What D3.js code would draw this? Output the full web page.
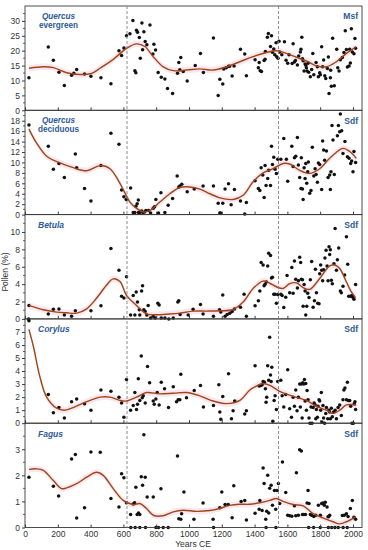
<!DOCTYPE html>
<html><head><meta charset="utf-8">
<script src="https://cdn.jsdelivr.net/npm/d3@7"></script>
<style>body{margin:0;background:#fff}svg{display:block}text{font-family:"Liberation Sans",Arial,sans-serif}</style>
</head><body><svg id="c" width="368" height="550"></svg>
<script>
// ---------------- DATA ----------------
const xTicks = [0,200,400,600,800,1000,1200,1400,1600,1800,2000];
const dashedYears = [622, 1546];
const panelTitles = [["Quercus","evergreen"],["Quercus","deciduous"],["Betula"],["Corylus"],["Fagus"]];
const panelTags = ["Msf","Sdf","Sdf","Sdf","Sdf"];
const yMax = [35, 20, 12, 8, 4];
const yStep = [5, 2, 2, 1, 1];
const yTopTick = [30, 18, 10, 7, 3];
const bandHalf = [1.1, 0.6, 0.38, 0.25, 0.12];

const qeYears = [24,142,173,207,240,284,298,315,363,402,463,524,573,589,603,619,640,658,670,676,680,686,697,703,713,717,725,733,743,762,780,786,796,812,831,853,869,900,930,938,950,944,965,989,1038,1070,1088,1149,1178,1188,1206,1212,1227,1241,1247,1263,1275,1314,1340,1350,1403,1423,1428,1434,1442,1458,1464,1466,1478,1484,1497,1503,1509,1517,1523,1531,1535,1543,1549,1553,1566,1582,1592,1602,1610,1629,1635,1643,1649,1661,1669,1679,1683,1688,1692,1696,1702,1708,1712,1716,1720,1726,1730,1740,1748,1755,1761,1775,1783,1789,1797,1801,1809,1815,1821,1828,1834,1844,1850,1854,1862,1864,1868,1876,1886,1901,1907,1915,1923,1935,1945,1953,1960,1966,1976,1980,1984,1990,1996,2006,2012,2016];
const qeValues = [10.9,21.2,16.8,12.8,8.3,11.8,12.4,13.7,12.2,11.4,10.9,8.9,20.0,18.4,20.9,25.0,25.7,30.1,13.3,12.6,26.9,26.2,24.4,17.5,29.3,20.3,26.4,23.1,22.0,28.6,18.9,22.2,20.2,12.7,11.1,10.5,7.3,5.6,12.4,16.0,17.7,13.6,13.0,9.8,15.0,19.1,12.7,24.3,5.0,10.4,8.8,13.9,14.3,14.8,14.8,11.5,14.9,20.5,18.9,11.6,17.0,14.3,16.0,13.3,13.0,16.7,17.1,19.7,24.5,25.8,21.4,25.0,19.5,20.6,18.6,22.7,18.0,17.5,23.2,19.6,18.6,23.0,16.8,15.8,18.6,15.7,22.3,16.2,16.7,15.2,18.2,19.6,20.5,24.5,17.3,16.6,13.2,15.5,15.1,14.3,13.2,15.8,12.8,11.3,13.7,19.1,11.9,16.0,14.6,11.3,12.6,11.9,21.3,14.6,16.9,11.6,10.7,14.0,17.9,5.6,10.9,13.4,8.1,24.2,8.2,20.5,14.3,13.2,17.0,17.7,19.4,26.7,20.4,14.5,14.9,20.5,15.9,27.4,19.6,19.0,24.1,20.8];
const qeCurveYears = [24,112,173,254,335,406,457,538,619,680,731,782,843,904,985,1066,1147,1229,1310,1391,1472,1533,1594,1655,1726,1777,1838,1899,1960,2016];
const qeCurveValues = [14.1,14.6,14.3,12.6,12.0,12.4,14.1,17.1,20.8,22.3,21.4,18.0,14.6,13.3,13.5,13.9,13.5,14.6,16.3,18.0,19.4,20.0,19.1,17.8,16.3,14.9,14.6,16.3,19.1,21.2];

const qdYears = [24,142,173,207,240,307,315,363,402,463,524,573,589,603,617,644,660,670,676,684,691,692,700,711,719,729,737,753,766,782,790,798,814,829,853,873,900,928,938,944,956,989,1032,1086,1149,1178,1188,1192,1206,1220,1241,1257,1277,1314,1340,1350,1403,1423,1432,1440,1450,1458,1464,1470,1480,1486,1497,1503,1509,1517,1525,1533,1541,1560,1578,1594,1602,1627,1635,1643,1651,1661,1667,1675,1683,1685,1692,1696,1702,1708,1712,1718,1724,1728,1736,1744,1752,1761,1769,1775,1783,1789,1797,1809,1815,1821,1827,1838,1848,1858,1862,1866,1872,1878,1886,1905,1911,1919,1923,1931,1939,1951,1966,1976,1986,1992,2000,2006,2016];
const qdValues = [17.2,13.1,8.7,9.8,7.1,11.6,9.0,5.0,2.6,9.4,15.6,13.5,4.7,3.4,2.9,5.1,0.4,0.4,1.6,2.1,2.8,0.4,0.4,0.7,0.4,0.5,0.8,0.8,0.3,1.2,1.5,2.9,0.3,4.2,0.4,1.8,3.1,7.4,5.3,5.5,5.8,4.4,4.9,5.5,5.5,2.2,0.3,0.3,2.2,4.9,5.9,1.9,4.8,2.6,0.1,2.3,6.5,5.0,4.6,9.0,7.6,3.3,9.4,5.6,6.9,8.5,5.6,13.1,9.6,11.0,8.7,7.9,10.6,10.6,14.6,10.6,6.4,13.1,9.2,10.9,11.2,14.8,9.5,7.1,5.0,10.9,4.9,2.9,9.0,6.9,9.8,6.0,8.2,10.1,4.1,4.6,12.9,7.4,8.8,7.7,6.2,9.9,9.6,4.8,14.1,12.4,10.4,12.2,7.1,7.6,4.8,8.2,17.1,14.3,7.7,15.1,17.1,15.9,19.3,16.1,11.7,14.0,11.1,10.8,9.8,10.3,8.2,12.1,10.0];
const qdCurveYears = [24,71,132,213,294,376,457,518,579,640,680,721,762,822,883,944,1005,1066,1127,1188,1269,1330,1391,1452,1513,1574,1614,1675,1736,1797,1858,1939,1980,2020];
const qdCurveValues = [16.4,13.7,11.2,9.9,9.0,8.4,9.4,8.8,6.0,2.4,1.2,0.5,0.8,2.4,4.0,5.2,5.3,4.9,4.0,3.2,2.9,3.7,6.3,8.0,8.8,9.8,9.7,8.5,7.9,8.8,10.8,12.7,12.1,10.8];

const beYears = [24,22,142,173,207,240,284,307,402,463,524,573,589,603,619,644,660,670,678,686,697,700,711,717,725,733,743,751,766,782,794,810,818,831,853,877,904,932,938,946,995,1025,1070,1086,1149,1186,1194,1206,1220,1233,1249,1263,1277,1314,1336,1350,1403,1423,1432,1440,1452,1458,1464,1472,1480,1486,1497,1503,1509,1517,1525,1533,1541,1560,1568,1578,1590,1598,1614,1627,1635,1643,1651,1661,1667,1675,1681,1685,1692,1696,1702,1708,1712,1718,1724,1732,1740,1748,1757,1765,1771,1777,1785,1793,1797,1803,1809,1815,1821,1829,1836,1842,1848,1854,1858,1862,1868,1874,1884,1891,1899,1905,1913,1923,1929,1939,1949,1960,1968,1974,1986,1994,2000,2006,2016];
const beValues = [1.55,0,0.55,1.1,1.15,0.45,0.3,0.95,0.95,1.5,8.1,5.6,2.6,2.4,4.85,0.45,2.7,0.45,3.1,1.95,1.05,0.45,3.2,3.8,1.05,0.85,0.45,1.55,0.1,0.3,0.1,1.8,1.6,0.1,0.1,0,0.1,1.95,2.1,0.5,0.45,1.1,1.65,0.55,0.3,1.05,0.8,2.75,0.3,0.5,0.65,0.85,1.15,1.35,2.85,0.3,1.5,2.1,3.2,6.5,6.2,3.8,4.0,4.25,6.1,7.55,7.3,4.7,4.8,2.85,2.85,1.8,2.8,2.85,2.7,1.3,2.5,5.0,3.0,5.9,2.95,6.65,4.55,3.55,4.4,7.1,6.5,4.55,4.5,1.45,3.95,3.2,0.45,1.45,2.95,2.45,4.5,6.6,1.35,2.1,5.7,3.0,1.8,1.75,5.2,6.2,5.6,4.4,5.65,7.0,7.9,6.1,4.4,8.3,7.4,7.95,4.45,4.05,6.35,10.4,5.6,6.8,8.15,3.2,3.0,3.75,5.05,9.45,6.3,2.6,2.6,2.7,2.45,2.25,3.95];
const beCurveYears = [24,112,193,254,315,376,437,498,538,579,619,680,741,802,863,944,1025,1107,1188,1269,1330,1391,1452,1493,1533,1574,1614,1655,1696,1736,1797,1858,1889,1919,1960,1990,2016];
const beCurveValues = [1.55,1.05,0.78,0.7,0.66,1.16,2.4,3.9,4.6,4.3,2.7,1.55,0.58,0.47,0.54,0.66,0.9,0.9,0.93,1.08,1.94,3.5,4.35,4.1,3.7,3.5,4.05,4.15,3.6,3.4,4.65,6.1,6.2,5.8,4.25,3.1,2.45];

const coYears = [24,142,173,207,240,284,315,363,402,463,524,573,589,603,619,644,660,670,680,686,691,700,709,715,721,733,747,760,782,788,798,806,818,831,851,875,904,924,934,944,950,985,1032,1070,1088,1149,1182,1188,1194,1206,1241,1259,1269,1279,1340,1350,1403,1428,1438,1446,1452,1460,1466,1470,1474,1480,1486,1492,1497,1501,1505,1511,1519,1525,1533,1541,1560,1568,1578,1590,1602,1614,1625,1635,1643,1651,1659,1667,1675,1679,1685,1690,1694,1700,1704,1708,1712,1716,1720,1726,1732,1738,1744,1750,1757,1763,1769,1773,1777,1783,1787,1793,1797,1803,1807,1811,1817,1821,1827,1834,1838,1846,1852,1858,1862,1868,1874,1882,1891,1899,1909,1919,1929,1939,1945,1951,1960,1966,1972,1980,1986,1994,2002,2008,2012,2016];
const coValues = [7.85,2.2,0.8,1.2,0.4,1.65,1.85,1.5,1.0,2.55,2.45,2.0,1.55,0.45,3.35,1.0,1.35,2.35,1.05,1.45,3.4,1.75,5.15,1.95,2.1,1.55,4.35,3.1,1.7,1.45,1.85,2.35,1.4,3.15,2.65,1.2,2.8,1.65,1.8,1.8,3.75,1.95,2.5,2.9,1.25,1.35,2.95,0.85,0.3,2.05,3.8,0.35,0.95,1.7,0.7,0.95,4.4,2.85,2.9,2.95,3.2,3.15,2.65,1.6,2.0,4.4,3.3,6.6,3.7,3.2,4.3,0.15,1.75,2.1,1.05,3.2,3.3,2.1,1.25,2.2,4.1,1.1,0.45,2.0,1.3,2.55,0.95,2.0,3.0,1.25,3.0,0.4,3.1,3.0,3.35,1.7,3.05,1.0,2.5,1.8,0.4,0,1.25,0,1.2,1.55,1.4,0.35,1.05,0.45,1.3,1.8,1.7,1.0,2.35,0.1,1.35,0.4,0,0.75,1.2,0.35,1.0,0.85,0.35,1.15,0.5,0.85,1.0,0.35,1.2,1.4,0.6,1.8,2.55,2.7,1.8,3.15,1.75,1.75,1.3,0,0,1.5,1.65,1.05];
const coCurveYears = [24,51,91,132,193,244,294,376,457,518,579,619,680,741,822,904,985,1066,1147,1229,1310,1371,1411,1452,1493,1553,1614,1675,1716,1777,1838,1878,1919,1960,2020];
const coCurveValues = [7.2,5.9,3.55,2.0,1.15,1.0,1.2,1.65,2.0,2.0,1.75,1.7,2.0,2.35,2.25,2.3,2.35,2.1,1.7,1.5,1.75,2.55,2.85,3.05,2.9,2.45,2.15,1.9,1.75,1.3,1.0,0.75,1.0,1.4,1.4];

const faYears = [24,173,205,284,307,315,363,402,459,524,573,589,603,619,644,660,668,676,684,692,700,709,717,725,733,745,782,829,930,938,950,955,969,1030,1086,1147,1188,1200,1220,1239,1263,1273,1318,1340,1350,1403,1428,1432,1446,1452,1458,1468,1474,1480,1486,1492,1501,1509,1521,1529,1537,1545,1553,1570,1590,1602,1614,1627,1643,1651,1655,1667,1675,1685,1692,1700,1710,1720,1726,1732,1740,1748,1761,1773,1789,1801,1809,1817,1825,1831,1842,1848,1852,1858,1935,1947,1960,1970,1984,1996,2006,2016,645,672,700,735,798,814,843,873,1150,1470,1530,1730,1760,1800,1850,1870,1890,1910,1940,1965];
const faValues = [1.93,1.58,1.21,2.63,2.8,0.36,0.76,2.9,2.89,1.11,0.79,2.06,1.91,0.95,0.5,0.9,0.95,1.54,0.5,0.56,0.5,1.95,1.62,3.56,1.93,1.17,1.17,1.49,2.74,0.34,0.32,0.53,1.36,0.32,0.94,0.32,0.76,1.36,0.88,0.88,0.37,1.6,1.0,1.04,0.29,0.55,0.7,1.04,0.65,2.28,1.69,0.32,0.62,2.0,0.56,1.51,1.62,0.85,1.42,0.7,1.42,1.69,0.92,2.51,1.34,0.47,0.45,0.43,0.83,0.45,2.1,0.47,2.98,2.93,0.5,0.5,0.5,0.94,1.42,0.92,0.5,0.47,0.42,0.47,0.85,0.47,0.92,0.94,0.85,0.97,0.79,0.41,0.42,0.47,0.46,0.47,0.53,0.42,0.73,1.04,0.39,0.32,0,0,0,0,0,0,0,0,0,0,0,0,0,0,0,0,0,0,0,0];
const faCurveYears = [24,71,112,173,223,254,315,376,437,477,538,599,660,700,741,782,843,904,965,1046,1127,1188,1249,1310,1371,1432,1493,1533,1574,1635,1696,1757,1817,1878,1919,1960,2016];
const faCurveValues = [2.23,2.25,2.19,1.8,1.49,1.52,1.68,1.93,2.12,2.0,1.49,1.04,0.88,0.92,0.73,0.47,0.45,0.6,0.66,0.62,0.65,0.73,0.85,0.89,0.89,0.95,1.04,1.11,1.0,0.88,0.83,0.53,0.37,0.22,0.14,0.22,0.41];

const seriesYears = [qeYears, qdYears, beYears, coYears, faYears];
const seriesValues = [qeValues, qdValues, beValues, coValues, faValues];
const curveYears = [qeCurveYears, qdCurveYears, beCurveYears, coCurveYears, faCurveYears];
const curveValues = [qeCurveValues, qdCurveValues, beCurveValues, coCurveValues, faCurveValues];

// ---------------- DRAW ----------------
const svg = d3.select("#c");
const L = 25, R = 362, TOP = 6, PH = 104.3;
const x = d3.scaleLinear().domain([0, 2055]).range([L, R]);
const frameColor = "#3a3a3a", textColor = "#333", blue = "#2d5a96", curveColor = "#9c4619";

for (let i = 0; i < 5; i++) {
  const y0 = TOP + i * PH, y1 = y0 + PH;
  const y = d3.scaleLinear().domain([0, yMax[i]]).range([y1, y0]);
  const g = svg.append("g");
  const cid = "clip" + i;
  svg.append("clipPath").attr("id", cid).append("rect").attr("x", L).attr("y", y0).attr("width", R - L).attr("height", PH);

  const cur = curveYears[i].map((d, k) => [d, curveValues[i][k]]);
  const area = d3.area().x(d => x(d[0])).y0(d => y(Math.max(0, d[1] - bandHalf[i]))).y1(d => y(d[1] + bandHalf[i])).curve(d3.curveCatmullRom.alpha(0.5));
  g.append("path").attr("d", area(cur)).attr("fill", "#f9cfe0").attr("opacity", 0.5).attr("clip-path", `url(#${cid})`);

  const pts = seriesYears[i].map((d, k) => [d, seriesValues[i][k]]);
  g.selectAll("circle").data(pts).enter().append("circle")
    .attr("cx", d => x(d[0])).attr("cy", d => y(d[1])).attr("r", 1.75).attr("fill", "#111");

  const line = d3.line().x(d => x(d[0])).y(d => y(d[1])).curve(d3.curveCatmullRom.alpha(0.5));
  g.append("path").attr("d", line(cur)).attr("fill", "none").attr("stroke", curveColor).attr("stroke-width", 1.4).attr("clip-path", `url(#${cid})`);

  g.append("rect").attr("x", L).attr("y", y0).attr("width", R - L).attr("height", PH)
    .attr("fill", "none").attr("stroke", frameColor).attr("stroke-width", 0.9);

  const ticks = d3.range(0, yTopTick[i] + 0.001, yStep[i]);
  const yAxis = d3.axisLeft(y).tickValues(ticks).tickSize(3).tickPadding(2).tickFormat(d3.format("d"));
  const ga = g.append("g").attr("transform", `translate(${L},0)`).call(yAxis);
  ga.select(".domain").remove();
  ga.selectAll("line").attr("stroke", frameColor);
  ga.selectAll("text").attr("fill", textColor).attr("font-size", 8.5);
  const minor = d3.range(yStep[i] / 2, yMax[i], yStep[i]);
  g.selectAll(".mn").data(minor).enter().append("line")
    .attr("x1", L - 2).attr("x2", L).attr("y1", d => y(d)).attr("y2", d => y(d)).attr("stroke", frameColor).attr("stroke-width", 0.8);

  const xa = d3.axisBottom(x).tickValues(xTicks).tickSize(-3).tickFormat(i === 4 ? d3.format("d") : () => "").tickPadding(3);
  const gx = g.append("g").attr("transform", `translate(0,${y1})`).call(xa);
  gx.select(".domain").remove();
  gx.selectAll("line").attr("stroke", frameColor);
  gx.selectAll("text").attr("fill", textColor).attr("font-size", 8.5);

  const t = panelTitles[i];
  if (t.length === 2) {
    g.append("text").attr("x", 58.5).attr("y", y0 + 12.8).attr("text-anchor", "middle").attr("fill", blue)
      .attr("font-size", 8.2).attr("font-weight", "bold").attr("font-style", "italic").text(t[0]);
    g.append("text").attr("x", 58.5).attr("y", y0 + 21.6).attr("text-anchor", "middle").attr("fill", blue)
      .attr("font-size", 8.2).attr("font-weight", "bold").text(t[1]);
  } else {
    g.append("text").attr("x", 38).attr("y", y0 + 13.3).attr("fill", blue)
      .attr("font-size", 8.5).attr("font-weight", "bold").attr("font-style", "italic").text(t[0]);
  }
  g.append("text").attr("x", 358).attr("y", y0 + 13.3).attr("text-anchor", "end").attr("fill", blue)
    .attr("font-size", 8.5).attr("font-weight", "bold").text(panelTags[i]);
}

svg.selectAll(".dash").data(dashedYears).enter().append("line")
  .attr("x1", d => x(d)).attr("x2", d => x(d)).attr("y1", TOP).attr("y2", TOP + 5 * PH)
  .attr("stroke", "#808080").attr("stroke-width", 0.9).attr("stroke-dasharray", "3,2");

svg.append("text").attr("transform", `translate(8,272) rotate(-90)`).attr("text-anchor", "middle")
  .attr("fill", textColor).attr("font-size", 8.5).text("Pollen (%)");
svg.append("text").attr("x", 193).attr("y", 547).attr("text-anchor", "middle")
  .attr("fill", textColor).attr("font-size", 8.5).text("Years CE");
</script></body></html>
